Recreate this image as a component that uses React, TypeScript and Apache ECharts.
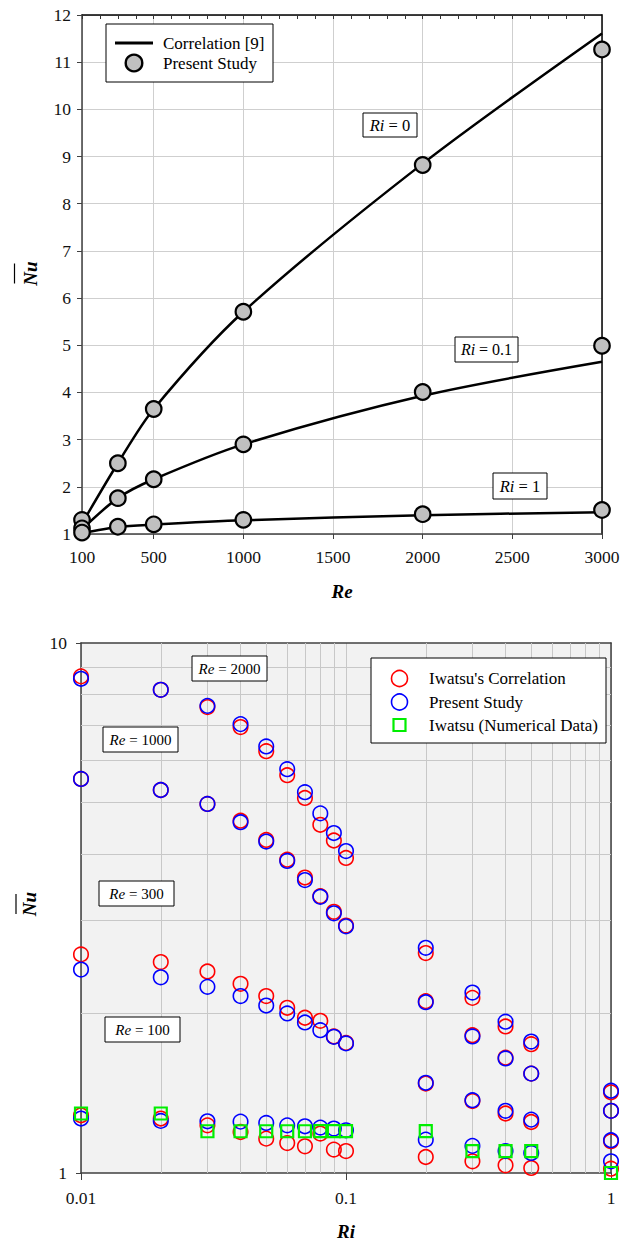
import React, { useEffect, useRef } from 'react';
import * as echarts from 'echarts';

// ---- Upper plot: mean Nusselt number against Reynolds number ----
const RE = [100, 300, 500, 1000, 2000, 3000];
const RE_LABELS = [100, 500, 1000, 1500, 2000, 2500, 3000];

const STUDY_RI_0 = [1.3, 2.5, 3.65, 5.71, 8.82, 11.27];
const STUDY_RI_01 = [1.12, 1.76, 2.16, 2.9, 4.01, 4.99];
const STUDY_RI_1 = [1.03, 1.155, 1.205, 1.3, 1.42, 1.51];

const CORR_RI_0 = [1.22, 2.5, 3.65, 5.71, 8.85, 11.61];
const CORR_RI_01 = [1.1, 1.76, 2.16, 2.9, 3.93, 4.65];
const CORR_RI_1 = [1.02, 1.15, 1.2, 1.29, 1.4, 1.46];

// ---- Lower plot: mean Nusselt number against Richardson number ----
const RI = [0.01, 0.02, 0.03, 0.04, 0.05, 0.06, 0.07, 0.08, 0.09, 0.1, 0.2, 0.3, 0.4, 0.5, 1];

const IWATSU_RE_2000 = [8.65, 8.16, 7.57, 6.94, 6.25, 5.63, 5.1, 4.54, 4.24, 3.93, 2.6, 2.14, 1.89, 1.75, 1.42];
const STUDY_RE_2000 = [8.56, 8.16, 7.61, 7.03, 6.38, 5.78, 5.23, 4.77, 4.38, 4.05, 2.66, 2.19, 1.93, 1.77, 1.43];

const IWATSU_RE_1000 = [5.54, 5.28, 4.97, 4.62, 4.25, 3.9, 3.61, 3.33, 3.11, 2.93, 2.11, 1.82, 1.65, 1.54, 1.31];
const STUDY_RE_1000 = [5.54, 5.28, 4.97, 4.59, 4.22, 3.88, 3.57, 3.32, 3.09, 2.92, 2.1, 1.81, 1.645, 1.54, 1.31];

const IWATSU_RE_300 = [2.585, 2.5, 2.4, 2.275, 2.157, 2.05, 1.963, 1.937, 1.81, 1.76, 1.475, 1.367, 1.295, 1.248, 1.148];
const STUDY_RE_300 = [2.42, 2.34, 2.245, 2.157, 2.07, 2.0, 1.923, 1.86, 1.807, 1.756, 1.48, 1.372, 1.31, 1.261, 1.153];

const IWATSU_RE_100 = [1.285, 1.267, 1.23, 1.195, 1.161, 1.139, 1.123, 1.187, 1.107, 1.1, 1.072, 1.052, 1.034, 1.022, 1.019];
const STUDY_RE_100 = [1.267, 1.254, 1.252, 1.25, 1.243, 1.23, 1.225, 1.218, 1.213, 1.204, 1.156, 1.125, 1.1, 1.091, 1.052];
const IWATSU_NUMERICAL_RE_100 = [1.295, 1.295, 1.199, 1.199, 1.199, 1.199, 1.199, 1.2, 1.2, 1.2, 1.2, 1.1, 1.1, 1.1, 1.0];

// log-axis minor grid values
const RI_MINOR_GRID = [0.02, 0.03, 0.04, 0.05, 0.06, 0.07, 0.08, 0.09, 0.2, 0.3, 0.4, 0.5, 0.6, 0.7, 0.8, 0.9];
const NU_MINOR_GRID = [2, 3, 4, 5, 6, 7, 8, 9];

const SERIF = '"Liberation Serif", "Times New Roman", serif';
const GRID_GRAY = '#cfcfcf';
const AXIS_DARK = '#404040';
const TICK_FONT = 17.5;
const TITLE_FONT = 19;
const LEGEND_FONT = 17;

const pairs = (xs: number[], ys: number[]) => xs.map((x, i) => [x, ys[i]]);
const plainNumber = (v: number) => String(+Number(v).toPrecision(4));

function correlationLine(values: number[]) {
  return {
    name: 'Correlation [9]',
    type: 'line',
    xAxisIndex: 0,
    yAxisIndex: 0,
    data: pairs(RE, values),
    smooth: 0.3,
    symbol: 'none',
    lineStyle: { color: '#000', width: 2.5 },
    z: 3,
  };
}

function studyPoints(values: number[]) {
  return {
    name: 'Present Study',
    type: 'scatter',
    xAxisIndex: 0,
    yAxisIndex: 0,
    data: pairs(RE, values),
    symbol: 'circle',
    symbolSize: 15.5,
    itemStyle: { color: '#c0c0c0', borderColor: '#000', borderWidth: 2.2, opacity: 1 },
    clip: false,
    z: 4,
  };
}

function riPoints(name: string, values: number[], color: string, symbol: string, size: number, width: number, z: number) {
  return {
    name,
    type: 'scatter',
    xAxisIndex: 2,
    yAxisIndex: 2,
    data: pairs(RI, values),
    symbol,
    symbolSize: size,
    itemStyle: { color: 'transparent', borderColor: color, borderWidth: width, opacity: 1 },
    clip: false,
    z,
  };
}

function boxLabel(cx: number, cy: number, w: number, h: number, name: string, value: string, size: number) {
  return {
    type: 'group',
    children: [
      {
        type: 'rect',
        shape: { x: cx - w / 2, y: cy - h / 2, width: w, height: h },
        style: { fill: '#fff', stroke: '#000', lineWidth: 1 },
        z: 10,
      },
      {
        type: 'text',
        x: cx,
        y: cy,
        style: {
          text: `{i|${name}} = ${value}`,
          fontFamily: SERIF,
          fontSize: size,
          fill: '#000',
          align: 'center',
          verticalAlign: 'middle',
          textAlign: 'center',
          textVerticalAlign: 'middle',
          rich: { i: { fontStyle: 'italic', fontFamily: SERIF, fontSize: size, fill: '#000' } },
        },
        z: 11,
      },
    ],
  };
}

function nuTitle(cx: number, cy: number, barX: number) {
  return {
    type: 'group',
    children: [
      {
        type: 'text',
        x: cx,
        y: cy,
        rotation: Math.PI / 2,
        style: {
          text: 'Nu',
          font: `italic bold ${TITLE_FONT}px ${SERIF}`,
          fill: '#000',
          align: 'center',
          verticalAlign: 'middle',
          textAlign: 'center',
          textVerticalAlign: 'middle',
        },
      },
      {
        type: 'line',
        shape: { x1: barX, y1: cy - 10, x2: barX, y2: cy + 10 },
        style: { stroke: '#000', lineWidth: 1.2 },
      },
    ],
  };
}

function legendText(x: number, y: number, text: string) {
  return {
    type: 'text',
    x,
    y,
    style: {
      text,
      fontFamily: SERIF,
      fontSize: LEGEND_FONT,
      fill: '#000',
      align: 'left',
      verticalAlign: 'middle',
      textAlign: 'left',
      textVerticalAlign: 'middle',
    },
    z: 11,
  };
}

function tickLabels(margin: number, extra: Record<string, unknown> = {}) {
  return {
    show: true,
    fontFamily: SERIF,
    fontSize: TICK_FONT,
    color: '#111',
    margin,
    formatter: plainNumber,
    ...extra,
  };
}

const titleStyle = { fontFamily: SERIF, fontSize: TITLE_FONT, fontWeight: 'bold', fontStyle: 'italic', color: '#000' };

const option = {
  animation: false,
  backgroundColor: '#fff',
  textStyle: { fontFamily: SERIF, color: '#111' },
  grid: [
    { left: 82, top: 15, width: 520, height: 519, show: false },
    { left: 81, top: 643, width: 530, height: 530, show: true, backgroundColor: '#f2f2f2', borderWidth: 0 },
  ],
  xAxis: [
    {
      gridIndex: 0,
      type: 'value',
      min: 100,
      max: 3000,
      interval: 100,
      position: 'bottom',
      name: 'Re',
      nameLocation: 'middle',
      nameGap: 48,
      nameTextStyle: titleStyle,
      axisLine: { show: true, onZero: false, lineStyle: { color: AXIS_DARK, width: 1.5 } },
      axisTick: { show: true, length: 5, customValues: RE_LABELS, lineStyle: { color: AXIS_DARK } },
      axisLabel: tickLabels(14, { customValues: RE_LABELS }),
      splitLine: { show: true, lineStyle: { color: GRID_GRAY, width: 1 } },
    },
    {
      gridIndex: 0,
      type: 'value',
      min: 100,
      max: 3000,
      interval: 100,
      position: 'top',
      axisLine: { show: true, onZero: false, lineStyle: { color: '#000', width: 1.5 } },
      axisTick: { show: true, inside: true, length: 4, lineStyle: { color: '#333' } },
      axisLabel: { show: false },
      splitLine: { show: false },
    },
    {
      gridIndex: 1,
      type: 'log',
      logBase: 10,
      min: 0.01,
      max: 1,
      position: 'bottom',
      name: 'Ri',
      nameLocation: 'middle',
      nameGap: 49,
      nameTextStyle: titleStyle,
      axisLine: { show: true, onZero: false, lineStyle: { color: AXIS_DARK, width: 1.5 } },
      axisTick: { show: true, length: 7, lineStyle: { color: AXIS_DARK } },
      axisLabel: tickLabels(16),
      splitLine: { show: true, lineStyle: { color: '#c8c8c8', width: 1 } },
    },
    {
      gridIndex: 1,
      type: 'log',
      logBase: 10,
      min: 0.01,
      max: 1,
      position: 'top',
      axisLine: { show: true, onZero: false, lineStyle: { color: AXIS_DARK, width: 1.5 } },
      axisTick: { show: false },
      axisLabel: { show: false },
      splitLine: { show: false },
    },
  ],
  yAxis: [
    {
      gridIndex: 0,
      type: 'value',
      min: 1,
      max: 12,
      interval: 1,
      axisLine: { show: true, onZero: false, lineStyle: { color: AXIS_DARK, width: 1.5 } },
      axisTick: { show: true, length: 5, lineStyle: { color: AXIS_DARK } },
      axisLabel: tickLabels(11),
      splitLine: { show: true, lineStyle: { color: GRID_GRAY, width: 1 } },
    },
    {
      gridIndex: 0,
      type: 'value',
      min: 1,
      max: 12,
      interval: 1,
      position: 'right',
      axisLine: { show: true, onZero: false, lineStyle: { color: '#000', width: 1.5 } },
      axisTick: { show: false },
      axisLabel: { show: false },
      splitLine: { show: false },
    },
    {
      gridIndex: 1,
      type: 'log',
      logBase: 10,
      min: 1,
      max: 10,
      axisLine: { show: true, onZero: false, lineStyle: { color: AXIS_DARK, width: 1.5 } },
      axisTick: { show: true, length: 5, lineStyle: { color: AXIS_DARK } },
      axisLabel: tickLabels(14),
      splitLine: { show: false },
    },
    {
      gridIndex: 1,
      type: 'log',
      logBase: 10,
      min: 1,
      max: 10,
      position: 'right',
      axisLine: { show: true, onZero: false, lineStyle: { color: AXIS_DARK, width: 1.5 } },
      axisTick: { show: false },
      axisLabel: { show: false },
      splitLine: { show: false },
    },
  ],
  series: [
    correlationLine(CORR_RI_0),
    correlationLine(CORR_RI_01),
    correlationLine(CORR_RI_1),
    studyPoints(STUDY_RI_0),
    studyPoints(STUDY_RI_01),
    studyPoints(STUDY_RI_1),
    {
      name: 'minor grid',
      type: 'lines',
      coordinateSystem: 'cartesian2d',
      xAxisIndex: 2,
      yAxisIndex: 2,
      silent: true,
      z: 1,
      lineStyle: { color: '#c8c8c8', width: 1, opacity: 1, curveness: 0 },
      data: [
        ...RI_MINOR_GRID.map((v) => ({ coords: [[v, 1], [v, 10]] })),
        ...NU_MINOR_GRID.map((v) => ({ coords: [[0.01, v], [1, v]] })),
      ],
    },
    riPoints("Iwatsu's Correlation", IWATSU_RE_2000, '#ff0000', 'circle', 14.5, 1.6, 3),
    riPoints("Iwatsu's Correlation", IWATSU_RE_1000, '#ff0000', 'circle', 14.5, 1.6, 3),
    riPoints("Iwatsu's Correlation", IWATSU_RE_300, '#ff0000', 'circle', 14.5, 1.6, 3),
    riPoints("Iwatsu's Correlation", IWATSU_RE_100, '#ff0000', 'circle', 14.5, 1.6, 3),
    riPoints('Present Study', STUDY_RE_2000, '#0000ff', 'circle', 14.5, 1.6, 4),
    riPoints('Present Study', STUDY_RE_1000, '#0000ff', 'circle', 14.5, 1.6, 4),
    riPoints('Present Study', STUDY_RE_300, '#0000ff', 'circle', 14.5, 1.6, 4),
    riPoints('Present Study', STUDY_RE_100, '#0000ff', 'circle', 14.5, 1.6, 4),
    riPoints('Iwatsu (Numerical Data)', IWATSU_NUMERICAL_RE_100, '#00ee00', 'rect', 12, 2.2, 5),
  ],
  graphic: [
    // axis titles with overbar
    nuTitle(30, 273.5, 14.5),
    nuTitle(29, 904, 16),

    // legend of the upper plot
    {
      type: 'rect',
      shape: { x: 106, y: 24, width: 167, height: 58 },
      style: { fill: '#fff', stroke: '#000', lineWidth: 1 },
      z: 10,
    },
    {
      type: 'line',
      shape: { x1: 115, y1: 43, x2: 153, y2: 43 },
      style: { stroke: '#000', lineWidth: 2.8 },
      z: 11,
    },
    {
      type: 'circle',
      shape: { cx: 134, cy: 63, r: 8.3 },
      style: { fill: '#c0c0c0', stroke: '#000', lineWidth: 2.4 },
      z: 11,
    },
    legendText(163, 43, 'Correlation [9]'),
    legendText(163, 63, 'Present Study'),

    // curve labels of the upper plot
    boxLabel(390, 125, 54, 24, 'Ri', '0', 16.5),
    boxLabel(486.5, 349.5, 63, 25, 'Ri', '0.1', 16),
    boxLabel(520, 486, 54, 26, 'Ri', '1', 16.5),

    // legend of the lower plot
    {
      type: 'rect',
      shape: { x: 371, y: 658, width: 235, height: 85 },
      style: { fill: '#fff', stroke: '#000', lineWidth: 1 },
      z: 10,
    },
    {
      type: 'circle',
      shape: { cx: 399.5, cy: 678.5, r: 8 },
      style: { fill: 'none', stroke: '#ff0000', lineWidth: 1.6 },
      z: 11,
    },
    {
      type: 'circle',
      shape: { cx: 399.5, cy: 702, r: 8 },
      style: { fill: 'none', stroke: '#0000ff', lineWidth: 1.6 },
      z: 11,
    },
    {
      type: 'rect',
      shape: { x: 393.5, y: 719, width: 12, height: 12 },
      style: { fill: 'none', stroke: '#00ee00', lineWidth: 2.2 },
      z: 11,
    },
    legendText(429, 678.5, "Iwatsu's Correlation"),
    legendText(429, 702, 'Present Study'),
    legendText(429, 725, 'Iwatsu (Numerical Data)'),

    // curve labels of the lower plot
    boxLabel(229.5, 668.5, 75, 25, 'Re', '2000', 15),
    boxLabel(140.5, 739.5, 75, 25, 'Re', '1000', 15),
    boxLabel(136.5, 893.5, 75, 25, 'Re', '300', 15),
    boxLabel(142.5, 1029.5, 75, 25, 'Re', '100', 15),
  ],
};

export default function App() {
  const ref = useRef<HTMLDivElement>(null);

  useEffect(() => {
    document.body.style.margin = '0';
    const chart = echarts.init(ref.current as HTMLDivElement, null, { renderer: 'svg' });
    chart.setOption(option as any);
    return () => {
      chart.dispose();
    };
  }, []);

  return <div ref={ref} style={{ width: 635, height: 1242, display: 'block' }} />;
}
